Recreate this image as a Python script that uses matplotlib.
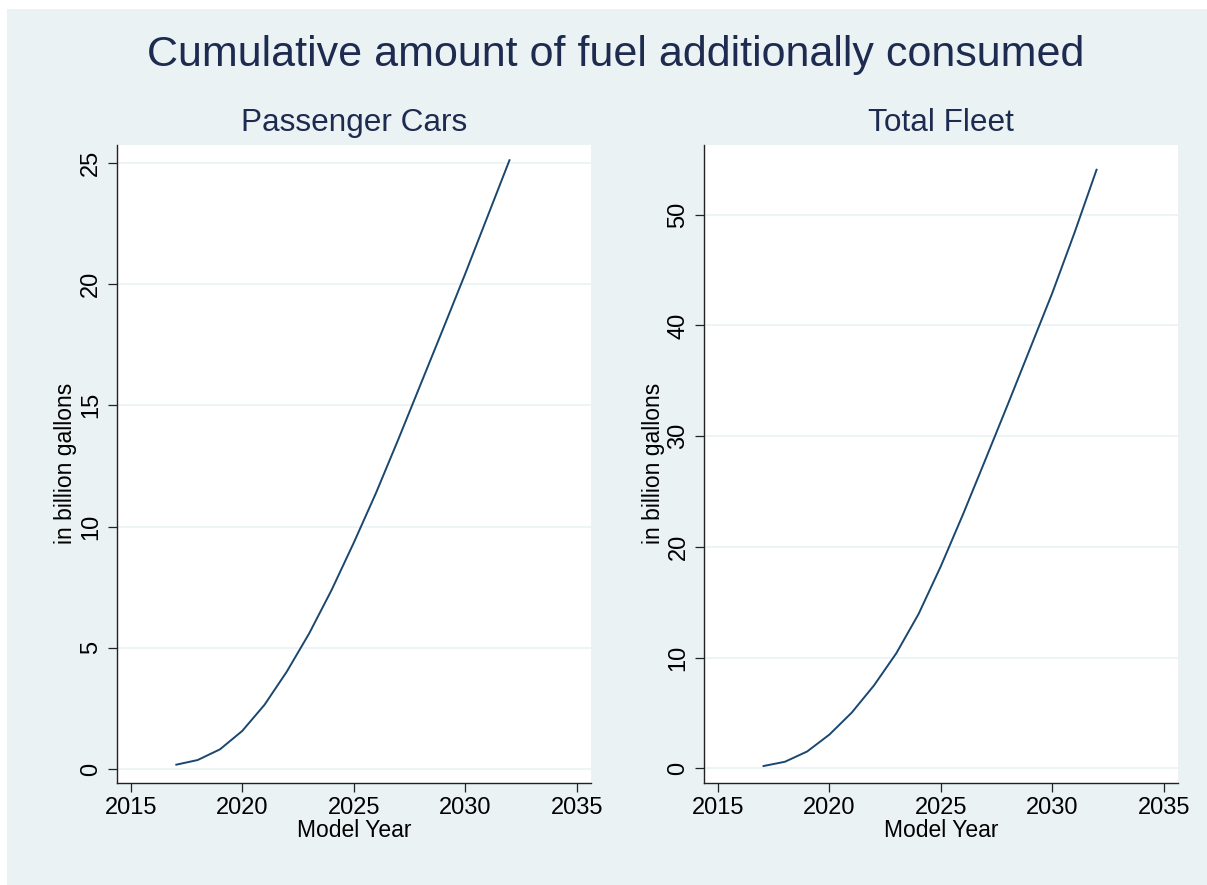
import matplotlib
matplotlib.use('Agg')
import matplotlib.pyplot as plt
from matplotlib.patches import Rectangle

plt.rcParams['font.family'] = ['Liberation Sans', 'DejaVu Sans']

# Data
years = [2017, 2018, 2019, 2020, 2021, 2022, 2023, 2024, 2025, 2026, 2027, 2028, 2029, 2030, 2031, 2032]
passenger_cars = [0.17, 0.37, 0.81, 1.57, 2.65, 4.02, 5.59, 7.37, 9.33, 11.39, 13.6, 15.87, 18.14, 20.43, 22.79, 25.15]
total_fleet = [0.2, 0.6, 1.53, 3.06, 5.04, 7.5, 10.4, 13.95, 18.27, 22.98, 27.9, 32.86, 37.9, 42.94, 48.4, 54.15]
x_ticks = [2015, 2020, 2025, 2030, 2035]
pc_yticks = [0, 5, 10, 15, 20, 25]
tf_yticks = [0, 10, 20, 30, 40, 50]
main_title = "Cumulative amount of fuel additionally consumed"
panel_titles = ["Passenger Cars", "Total Fleet"]
x_label = "Model Year"
y_label = "in billion gallons"

W, H = 1207, 885
BG = '#EAF2F3'
LINE = '#1a476f'
TITLE_C = '#1e2b50'

fig = plt.figure(figsize=(W / 100, H / 100), dpi=100)
fig.patch.set_facecolor('white')
fig.patches.append(Rectangle((7 / W, 0), 1 - 7 / W, 1 - 9 / H,
                             transform=fig.transFigure, facecolor=BG,
                             edgecolor='none', zorder=-10))

def px_axes(left, right, top, bottom):
    return [left / W, (H - bottom) / H, (right - left) / W, (bottom - top) / H]

ax1 = fig.add_axes(px_axes(116.7, 591, 145, 782.7))
ax2 = fig.add_axes(px_axes(704, 1178, 145, 782.7))

panels = [
    (ax1, passenger_cars, pc_yticks, (-0.565, 25.74), panel_titles[0]),
    (ax2, total_fleet, tf_yticks, (-1.29, 56.3), panel_titles[1]),
]

for ax, vals, yt, ylim, ttl in panels:
    ax.set_facecolor('white')
    ax.plot(years, vals, color=LINE, lw=1.4, solid_capstyle='butt', zorder=3)
    ax.set_xlim(2014.37, 2035.64)
    ax.set_ylim(*ylim)
    ax.set_xticks(x_ticks)
    ax.set_yticks(yt)
    ax.set_yticklabels([str(v) for v in yt], rotation=90, va='center')
    ax.grid(axis='y', color=BG, lw=1.2, zorder=0)
    ax.set_axisbelow(True)
    for s in ['top', 'right']:
        ax.spines[s].set_visible(False)
    for s in ['left', 'bottom']:
        ax.spines[s].set_linewidth(1.0)
        ax.spines[s].set_color('#222222')
    ax.tick_params(axis='both', direction='out', length=6.5, width=0.9,
                   labelsize=17, color='#222222', labelcolor='black')
    ax.tick_params(axis='x', pad=4)
    ax.tick_params(axis='y', pad=4)
    ax.set_xlabel(x_label, fontsize=16.5, labelpad=0)
    ax.set_ylabel(y_label, fontsize=16.5, labelpad=2)
    ax.set_title(ttl, fontsize=22.7, color=TITLE_C, pad=10)

fig.text(616 / W, 1 - 55 / H, main_title, fontsize=31, color=TITLE_C,
         ha='center', va='center')

fig.savefig('out.png', dpi=100, facecolor=fig.get_facecolor())
